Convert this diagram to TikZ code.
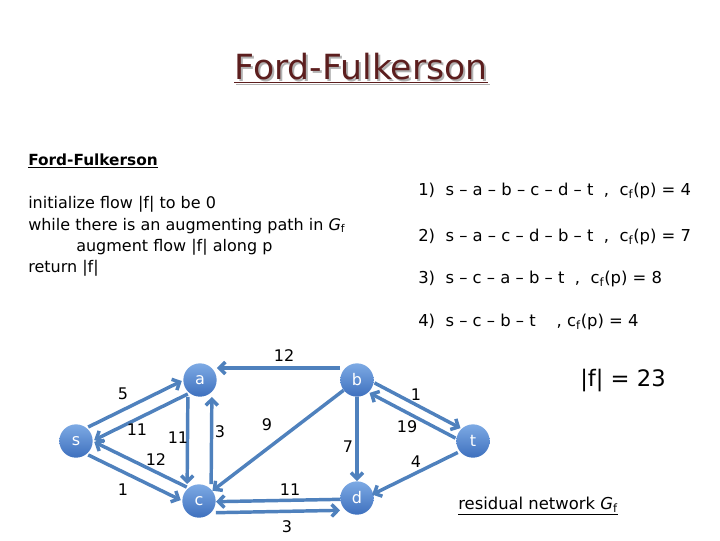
\documentclass[tikz,border=0pt]{standalone}
\usepackage{fontspec}
\setmainfont{DejaVu Sans}
\usetikzlibrary{arrows.meta}
\definecolor{edgeblue}{RGB}{79,129,189}
\definecolor{nodelight}{RGB}{125,170,228}
\definecolor{nodedark}{RGB}{62,112,190}
\definecolor{titlered}{RGB}{92,30,30}
\begin{document}
\begin{tikzpicture}[x=0.75pt,y=-0.75pt,
  vtx/.style={circle,minimum size=25pt,inner sep=0pt,top color=nodelight,bottom color=nodedark,text=white,font=\fontsize{12}{12}\selectfont},
  edge/.style={draw=edgeblue,line width=2.6pt,-{Straight Barb[length=4.5pt,width=9pt]}},
  lbl/.style={font=\fontsize{12}{12}\selectfont,inner sep=0pt},
  code/.style={font=\fontsize{12}{12}\selectfont,anchor=base west,inner sep=0pt},
  list/.style={font=\fontsize{12.3}{12.3}\selectfont,anchor=base west,inner sep=0pt}]
\useasboundingbox (0,0) rectangle (720,540);
% title
\node[font=\fontsize{26}{26}\selectfont,text=black!30] at (363,70) {\underline{Ford-Fulkerson}};
\node[font=\fontsize{26}{26}\selectfont,text=titlered] (title) at (361,68) {\underline{Ford-Fulkerson}};
% subheading and code
\node[code,font=\bfseries\fontsize{11.5}{11.5}\selectfont] (sub) at (28,165) {\underline{Ford-Fulkerson}};
\node[code] (l1) at (28,208) {initialize flow |f| to be 0};
\node[code] (l2) at (28,230) {while there is an augmenting path in {\itshape G}\textsubscript{f}};
\node[code] (l3) at (76,251) {augment flow |f| along p};
\node[code] (l4) at (28,272) {return |f|};
% list
\node[list] (p1) at (418,195) {1)\ \ s – a – b – c – d – t\ \ ,\ \ c\textsubscript{f}(p) = 4};
\node[list] (p2) at (418,241) {2)\ \ s – a – c – d – b – t\ \ ,\ \ c\textsubscript{f}(p) = 7};
\node[list] (p3) at (418,283) {3)\ \ s – c – a – b – t\ \ ,\ \ c\textsubscript{f}(p) = 8};
\node[list] (p4) at (418,326) {4)\ \ s – c – b – t\ \ \ \ , c\textsubscript{f}(p) = 4};
\node[font=\fontsize{17}{17}\selectfont] (val) at (623,381) {|f| = 23};
\node[font=\fontsize{12.3}{12.3}\selectfont] (res) at (538,506) {\underline{residual network {\itshape G}\textsubscript{f}}};
% vertices
\node[vtx] (s) at (76,441) {s};
\node[vtx] (a) at (200,380) {a};
\node[vtx] (b) at (357,380) {b};
\node[vtx] (c) at (199,501) {c};
\node[vtx] (d) at (357,498) {d};
\node[vtx] (t) at (473,441) {t};
% edges
\draw[edge,transform canvas={shift={(-3,-6.5)}}] (s) -- (a);
\draw[edge,transform canvas={shift={(3,6.5)}}] (a) -- (s);
\draw[edge,transform canvas={shift={(3,-6.5)}}] (c) -- (s);
\draw[edge,transform canvas={shift={(-3,6.5)}}] (s) -- (c);
\draw[edge,transform canvas={shift={(-12,0)}}] (a) -- (c);
\draw[edge,transform canvas={shift={(12,0)}}] (c) -- (a);
\draw[edge,transform canvas={shift={(0,-12)}}] (b) -- (a);
\draw[edge] (b) -- (c);
\draw[edge] (b) -- (d);
\draw[edge,transform canvas={shift={(0,1)}}] (d) -- (c);
\draw[edge,transform canvas={shift={(0,12)}}] (c) -- (d);
\draw[edge,transform canvas={shift={(2.5,-5)}}] (b) -- (t);
\draw[edge,transform canvas={shift={(-2.5,5)}}] (t) -- (b);
\draw[edge,transform canvas={shift={(0,4)}}] (t) -- (d);
% labels
\node[lbl] at (123,394) {5};
\node[lbl] at (137,430) {11};
\node[lbl] at (156,460) {12};
\node[lbl] at (123,490) {1};
\node[lbl] at (178,438) {11};
\node[lbl] at (220,432) {3};
\node[lbl] at (284,356) {12};
\node[lbl] at (267,425) {9};
\node[lbl] at (348,447) {7};
\node[lbl] at (290,490) {11};
\node[lbl] at (287,527) {3};
\node[lbl] at (416,395) {1};
\node[lbl] at (407,427) {19};
\node[lbl] at (416,462) {4};
\end{tikzpicture}
\end{document}
